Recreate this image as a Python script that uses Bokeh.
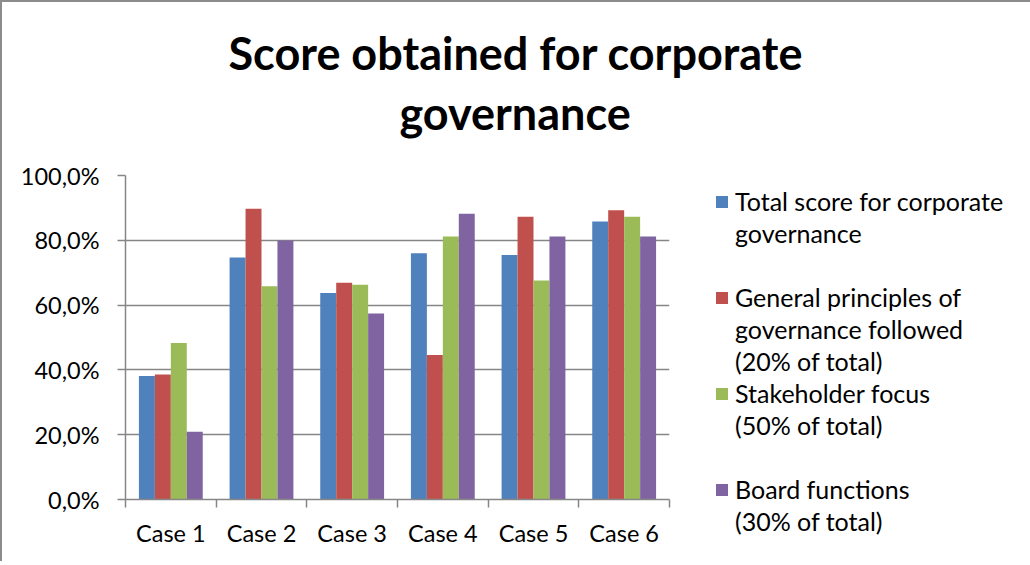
import numpy as np
from bokeh.plotting import figure
from bokeh.models import FixedTicker, Legend, LegendItem, Title
from bokeh.embed import file_html
from bokeh.resources import INLINE

categories = ["Case 1", "Case 2", "Case 3", "Case 4", "Case 5", "Case 6"]
total_score = [38.1, 74.7, 63.7, 76.0, 75.5, 85.8]
general_principles = [38.6, 89.7, 66.9, 44.6, 87.3, 89.3]
stakeholder_focus = [48.3, 65.8, 66.3, 81.2, 67.6, 87.3]
board_functions = [20.9, 79.9, 57.4, 88.2, 81.2, 81.2]
series_labels = [
    ["Total score for corporate", "governance", " "],
    ["General principles of", "governance followed", "(20% of total)"],
    ["Stakeholder focus", "(50% of total)", " "],
    ["Board functions", "(30% of total)"],
]
colors = ["#4F81BD", "#C0504D", "#9BBB59", "#8064A2"]
y_ticks = [0, 20, 40, 60, 80, 100]
y_tick_labels = ["0,0%", "20,0%", "40,0%", "60,0%", "80,0%", "100,0%"]
title_lines = ["Score obtained for corporate", "governance"]

FONT = "Lato"
GRID = "#868686"
BORDER = "2px solid #8C8C8C"

p = figure(frame_width=544, frame_height=324, x_range=(0, 6), y_range=(0, 100), title=None,
           output_backend="svg", toolbar_location=None,
           min_border_left=123, min_border_right=1025 - 125 - 544,
           min_border_top=173, min_border_bottom=565 - 4 - 175 - 324,
           outline_line_color=None)
p.styles = {"border-left": BORDER, "border-top": BORDER, "border-right": BORDER}

series = [total_score, general_principles, stakeholder_focus, board_functions]
bw = 0.176
offsets = [-1.5 * bw, -0.5 * bw, 0.5 * bw, 1.5 * bw]
centers = np.arange(len(categories)) + 0.5
blank = p.vbar(x=[], top=[], width=bw, fill_alpha=0, line_alpha=0)
items = []
for vals, col, off, labs in zip(series, colors, offsets, series_labels):
    r = p.vbar(x=centers + off, top=vals, width=bw, fill_color=col, line_color=None)
    items.append(LegendItem(label=labs[0], renderers=[r]))
    for extra in labs[1:]:
        items.append(LegendItem(label=extra, renderers=[blank]))

legend = Legend(items=items, location=(45, -38), padding=0, margin=0,
                spacing=0, glyph_width=15, glyph_height=15, label_standoff=6,
                label_height=32, border_line_color=None, background_fill_alpha=0,
                label_text_font=FONT, label_text_font_size="25px",
                label_text_line_height=1.0, label_text_color="#000000")
p.add_layout(legend, "right")

# title: two lines, centred over the whole chart (centre x = 515 px)
# line 2 first (closest to the plot), then line 1
p.add_layout(Title(text=title_lines[1], align="left", offset=515 - 125 - 116,
                   standoff=72, text_font=FONT, text_font_style="bold",
                   text_font_size="45px", text_color="#000000"), "above")
p.add_layout(Title(text=title_lines[0], align="left", offset=515 - 125 - 287,
                   standoff=-64, text_font=FONT, text_font_style="bold",
                   text_font_size="45px", text_color="#000000"), "above")

# axes
p.yaxis.ticker = FixedTicker(ticks=y_ticks)
p.yaxis.major_label_overrides = {t: l for t, l in zip(y_ticks, y_tick_labels)}
p.yaxis.major_tick_out = 8
p.yaxis.major_tick_in = 0
p.yaxis.major_label_standoff = 18

p.xaxis.ticker = FixedTicker(ticks=list(centers), minor_ticks=list(range(len(categories) + 1)))
p.xaxis.major_label_overrides = {float(c): l for c, l in zip(centers, categories)}
p.xaxis.major_tick_out = 0
p.xaxis.major_tick_in = 0
p.xaxis.minor_tick_out = 8
p.xaxis.minor_tick_in = 0
p.xaxis.major_label_standoff = 11

for ax in (p.xaxis, p.yaxis):
    ax.axis_line_color = GRID
    ax.axis_line_width = 1.5
    ax.major_tick_line_color = GRID
    ax.major_tick_line_width = 1.5
    ax.minor_tick_line_color = GRID
    ax.minor_tick_line_width = 1.5
    ax.major_label_text_font = FONT
    ax.major_label_text_font_size = "23.5px"
    ax.major_label_text_color = "#000000"
p.yaxis.minor_tick_line_color = None

p.xgrid.visible = False
p.ygrid.grid_line_color = GRID
p.ygrid.grid_line_width = 1.5

open("out.html", "w").write(file_html(p, INLINE))
